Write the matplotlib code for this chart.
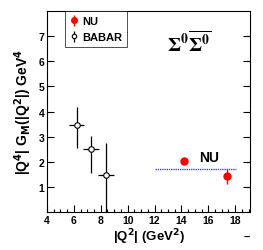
import matplotlib
matplotlib.use("Agg")
import matplotlib.pyplot as plt
from matplotlib.ticker import MultipleLocator
from matplotlib.legend_handler import HandlerErrorbar

plt.rcParams['font.family'] = ['Liberation Sans', 'DejaVu Sans']
plt.rcParams['font.weight'] = 'bold'

# BABAR data
babar_x = [6.21, 7.28, 8.42]
babar_xerr = [0.57, 0.58, 0.60]
babar_y = [3.45, 2.50, 1.49]
babar_yerr_lo = [0.89, 0.93, 1.49]
babar_yerr_hi = [0.73, 0.54, 1.27]

# NU data
nu_x = [14.2, 17.42]
nu_y = [2.03, 1.43]
nu_yerr_lo = [0.08, 0.31]
nu_yerr_hi = [0.08, 0.29]

# fit line
fit_x = [12.0, 18.05]
fit_y = [1.71, 1.71]

fig = plt.figure(figsize=(2.63, 2.51), dpi=100)
ax = fig.add_axes([0.1787, 0.1514, 0.7719, 0.8006])

ax.plot(fit_x, fit_y, color='#3344ff', linestyle=(0, (1, 0.6)), linewidth=1.0)

nu = ax.errorbar(nu_x, nu_y, yerr=[nu_yerr_lo, nu_yerr_hi], fmt='o', color='red',
                 markersize=5, elinewidth=1.0, capsize=0, label='NU', zorder=4)
bb = ax.errorbar(babar_x, babar_y, xerr=babar_xerr, yerr=[babar_yerr_lo, babar_yerr_hi],
                 fmt='o', color='black', mfc='white', mec='black', markersize=4,
                 elinewidth=0.9, markeredgewidth=0.8, capsize=0, label='BABAR', zorder=3)

ax.set_xlim(4, 19.1)
ax.set_ylim(0, 8)
ax.xaxis.set_major_locator(MultipleLocator(2))
ax.xaxis.set_minor_locator(MultipleLocator(0.5))
ax.set_yticks([1, 2, 3, 4, 5, 6, 7])
ax.tick_params(axis='x', which='major', direction='in', length=5, width=0.8,
               labelsize=7.5, pad=2, top=False)
ax.tick_params(axis='x', which='minor', direction='in', length=2.5, width=0.8, top=False)
ax.tick_params(axis='y', which='major', direction='in', length=5, width=0.8,
               labelsize=7.5, pad=2, right=True)
for lab in ax.get_xticklabels() + ax.get_yticklabels():
    lab.set_fontweight('bold')
for s in ax.spines.values():
    s.set_linewidth(0.8)

ax.set_xlabel(r'|Q$^{\mathbf{2}}$| (GeV$^{\mathbf{2}}$)', fontsize=9.5, fontweight='bold', labelpad=1)
ax.set_ylabel(r'|Q$^{\mathbf{4}}$| G$_{\mathbf{M}}$(|Q$^{\mathbf{2}}$|) GeV$^{\mathbf{4}}$',
              fontsize=10, fontweight='bold', labelpad=3)

ax.text(15.3, 2.18, 'NU', fontsize=10, fontweight='bold', va='center', ha='left')
ax.text(12.9, 6.8, r'$\mathrm{\Sigma}^{\mathbf{0}}\overline{\mathrm{\Sigma}^{\mathbf{0}}}$',
        fontsize=14, va='center', ha='left', math_fontfamily='stix', fontweight='normal')

leg = ax.legend(handles=[nu, bb], loc='upper left', bbox_to_anchor=(0.087, 1.0),
                fontsize=8, frameon=True, fancybox=False, edgecolor='black',
                borderpad=0.45, handlelength=0.7, handletextpad=0.4, labelspacing=0.55,
                borderaxespad=0, markerscale=0.8,
                handler_map={bb: HandlerErrorbar(xerr_size=0.0, yerr_size=0.5)})
leg.get_frame().set_linewidth(0.6)
for t in leg.get_texts():
    t.set_fontweight('bold')

fig.text(247/263, 1 - 238/251, '–', fontsize=8, ha='center', va='center')

fig.savefig('out.png', dpi=100)
